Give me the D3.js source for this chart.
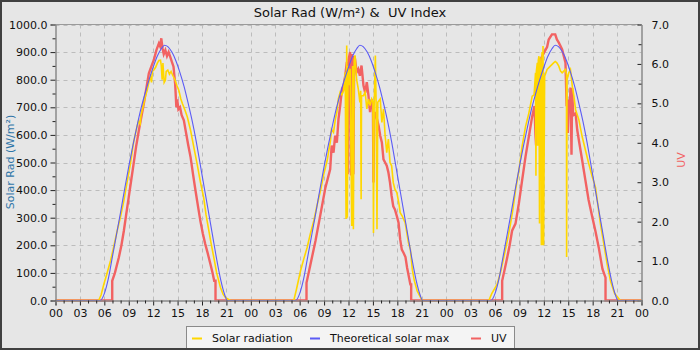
<!DOCTYPE html>
<html><head><meta charset="utf-8">
<script src="https://cdn.jsdelivr.net/npm/d3@7/dist/d3.min.js"></script>
<style>
body{margin:0;background:#e6e6e6}
svg{display:block}
text{font-family:"DejaVu Sans",sans-serif}
</style>
</head><body>
<svg id="chart" width="700" height="350"></svg>
<script>
// ---- DATA (hours since start of day 1, value) ----
const xTickHours = [0,3,6,9,12,15,18,21,24,27,30,33,36,39,42,45,48,51,54,57,60,63,66,69,72];
const xTickLabels = ["00","03","06","09","12","15","18","21","00","03","06","09","12","15","18","21","00","03","06","09","12","15","18","21","00"];
const radTicks = [0,100,200,300,400,500,600,700,800,900,1000];
const uvTicks = [0,1,2,3,4,5,6,7];

const theoreticalMax = [
 [0,0],[5.5,0],[6,25],[6.5,80],[7,160],[7.5,240],[8,320],[8.5,405],[9,485],[9.5,560],[10,630],[10.5,695],[11,750],[11.5,800],[12,845],[12.5,885],[13,912],[13.4,925],[13.8,920],[14.3,900],[14.8,868],[15.3,825],[15.8,775],[16.3,715],[16.8,650],[17.3,575],[17.8,490],[18.3,405],[18.8,320],[19.3,235],[19.8,150],[20.3,75],[20.8,20],[21.1,0],
 [29.5,0],[30,25],[30.5,80],[31,160],[31.5,240],[32,320],[32.5,405],[33,485],[33.5,560],[34,630],[34.5,695],[35,750],[35.5,800],[36,845],[36.5,885],[37,912],[37.4,925],[37.8,920],[38.3,900],[38.8,868],[39.3,825],[39.8,775],[40.3,715],[40.8,650],[41.3,575],[41.8,490],[42.3,405],[42.8,320],[43.3,235],[43.8,150],[44.3,75],[44.8,20],[45.1,0],
 [53.5,0],[54,25],[54.5,80],[55,160],[55.5,240],[56,320],[56.5,405],[57,485],[57.5,560],[58,630],[58.5,695],[59,750],[59.5,800],[60,845],[60.5,885],[61,912],[61.4,925],[61.8,920],[62.3,900],[62.8,868],[63.3,825],[63.8,775],[64.3,715],[64.8,650],[65.3,575],[65.8,490],[66.3,405],[66.8,320],[67.3,235],[67.8,150],[68.3,75],[68.8,20],[69.1,0],[72,0]
];

const solarRadiation = [
 [0,0],[5.3,0],[5.6,20],[5.94,59],[6.3,95],[6.76,144],[7.2,200],[7.58,253],[8.0,305],[8.4,362],[8.8,430],[9.2,495],[9.6,575],[10.0,628],[10.2,650],[10.4,640],[10.5,670],[10.85,713],[11.0,735],[11.26,762],[11.5,795],[11.67,810],[11.8,790],[11.9,830],[12.08,835],[12.3,845],[12.5,859],[12.7,870],[12.9,871],[13.0,850],[13.1,800],[13.2,860],[13.35,790],[13.5,798],[13.6,830],[13.8,835],[14.0,820],[14.2,830],[14.4,816],[14.7,798],[14.9,780],[15.15,762],[15.4,730],[15.6,713],[15.9,690],[16.2,665],[16.6,616],[17.0,555],[17.4,495],[17.8,430],[18.2,374],[18.5,310],[18.84,253],[19.1,210],[19.45,156],[19.8,100],[20.27,47],[20.6,22],[20.9,10],[21.5,0],
 [29.28,0],[29.6,40],[30.1,107],[30.5,150],[30.92,192],[31.3,240],[31.74,289],[32.1,340],[32.56,398],[32.97,459],[33.38,507],[33.79,580],[33.9,620],[34.16,609],[34.4,660],[34.57,682],[34.75,730],[34.98,755],[35.2,745],[35.4,760],[35.6,827],[35.7,295],[35.78,924],[35.85,300],[35.95,850],[36.05,780],[36.2,840],[36.4,270],[36.5,850],[36.6,258],[36.7,870],[36.8,888],[37.0,800],[37.2,767],[37.4,718],[37.5,760],[37.55,367],[37.6,742],[37.84,742],[38.05,755],[38.25,694],[38.45,730],[38.65,706],[38.85,730],[39.0,720],[39.07,245],[39.15,700],[39.3,888],[39.4,700],[39.5,258],[39.6,718],[39.9,730],[40.1,645],[40.3,694],[40.5,597],[40.7,536],[40.9,585],[41.1,500],[41.3,488],[41.5,427],[41.7,403],[41.94,391],[42.2,350],[42.35,318],[42.6,306],[42.96,282],[43.2,240],[43.37,209],[43.6,185],[43.85,110],[44.1,70],[44.44,35],[45.05,0],
 [53.24,0],[53.6,25],[54.27,59],[54.7,105],[55.08,156],[55.5,215],[55.9,277],[56.2,330],[56.52,400],[56.93,470],[57.34,560],[57.75,630],[58.16,679],[58.57,740],[58.8,745],[58.98,825],[59.03,452],[59.08,830],[59.2,861],[59.27,561],[59.32,870],[59.4,885],[59.47,279],[59.52,880],[59.65,820],[59.7,200],[59.78,900],[59.85,200],[59.9,922],[59.97,200],[60.1,813],[60.4,837],[60.8,849],[61.2,861],[61.4,866],[61.6,861],[61.84,849],[62.05,831],[62.25,825],[62.45,831],[62.66,837],[62.78,820],[62.8,158],[62.85,800],[63.07,825],[63.27,837],[63.5,776],[63.7,740],[63.9,691],[64.3,655],[64.7,595],[65.1,546],[65.5,498],[65.94,449],[66.35,410],[66.96,277],[67.4,200],[67.78,132],[68.2,70],[68.7,25],[69.4,0],[72,0]
];

const uvIndex = [
 [0,0],[6.97,0],[6.97,0.5],[7.3,0.7],[7.78,1.09],[8.1,1.4],[8.4,1.77],[8.7,2.2],[9.0,2.62],[9.3,3.05],[9.6,3.47],[9.9,3.9],[10.24,4.31],[10.5,4.6],[10.85,4.99],[11.1,5.3],[11.47,5.76],[11.8,5.95],[12.08,6.1],[12.4,6.35],[12.7,6.52],[12.85,6.45],[13.0,6.65],[13.15,6.4],[13.3,6.25],[13.5,6.35],[13.7,6.2],[13.9,6.3],[14.1,6.18],[14.3,6.05],[14.5,5.93],[14.7,5.5],[14.85,4.9],[14.95,5.1],[15.1,4.85],[15.3,4.9],[15.5,4.7],[15.77,4.57],[16.0,4.3],[16.3,3.95],[16.6,3.63],[16.9,3.2],[17.2,2.79],[17.5,2.4],[17.8,2.02],[18.1,1.7],[18.4,1.43],[18.7,1.2],[19.04,0.92],[19.3,0.7],[19.5,0.5],[19.66,0.5],[19.66,0],
 [30.84,0],[30.84,0.45],[31.33,0.92],[31.94,1.51],[32.56,2.19],[33.17,2.87],[33.75,3.33],[33.93,3.93],[34.16,3.75],[34.36,4.18],[34.57,4.0],[34.77,4.6],[34.98,4.94],[35.2,5.37],[35.4,5.45],[35.6,5.7],[35.8,6.05],[35.9,3.2],[36.0,6.1],[36.2,6.3],[36.3,3.17],[36.4,6.25],[36.6,3.2],[36.7,6.2],[36.8,6.13],[37.0,5.79],[37.2,5.87],[37.4,5.7],[37.6,5.96],[37.84,5.45],[38.05,5.27],[38.25,5.54],[38.45,5.2],[38.65,4.78],[38.85,5.1],[39.0,4.9],[39.07,2.99],[39.15,4.6],[39.3,4.78],[39.5,4.6],[39.7,4.43],[39.9,4.18],[40.1,4.01],[40.3,3.58],[40.5,3.5],[40.7,3.42],[40.9,3.25],[41.1,2.99],[41.3,2.65],[41.5,2.39],[41.7,2.31],[41.94,2.14],[42.15,1.97],[42.35,1.55],[42.55,1.29],[42.76,1.21],[43.0,1.1],[43.2,0.83],[43.6,0.41],[43.7,0.41],[43.7,0],
 [54.88,0],[54.88,0.5],[55.2,0.8],[55.5,1.09],[55.8,1.4],[56.1,1.77],[56.52,1.95],[56.93,2.46],[57.34,3.06],[57.75,3.65],[58.16,4.16],[58.57,4.67],[58.85,4.93],[58.98,4.16],[59.05,3.93],[59.1,5.52],[59.4,6.03],[59.5,4.07],[59.6,6.11],[60.0,6.28],[60.4,6.43],[60.6,6.62],[61.0,6.75],[61.4,6.75],[61.6,6.62],[61.84,6.54],[62.25,6.37],[62.45,6.2],[62.66,6.03],[62.8,4.93],[62.9,5.1],[62.95,4.25],[63.07,5.1],[63.2,4.9],[63.27,5.4],[63.4,3.7],[63.48,5.39],[63.6,4.7],[63.9,4.75],[64.1,4.33],[64.3,4.07],[64.7,3.57],[65.1,3.06],[65.5,2.55],[65.94,2.13],[66.35,1.75],[66.75,1.34],[67.2,0.8],[67.58,0.58],[67.58,0],[72,0]
];

const seriesNames = ["Solar radiation","Theoretical solar max","UV"];
const seriesColors = ["#ffd700","#5b5bf5","#f26262"];

// ---- DRAW ----
const svg = d3.select("#chart");
const W = 700, H = 350;
const L = 55.5, R = 641.5, T = 24.5, B = 300.5;

svg.append("rect").attr("x",0).attr("y",0).attr("width",W).attr("height",H).attr("fill","#e6e6e6");

const x = d3.scaleLinear().domain([0,72]).range([L,R]);
const yL = d3.scaleLinear().domain([0,1000]).range([B,T]);
const yR = d3.scaleLinear().domain([0,7]).range([B,T]);

// grid
const grid = svg.append("g").attr("stroke","#bcbcbc").attr("stroke-dasharray","4,4").attr("stroke-width",1);
grid.selectAll("line.h").data(radTicks.filter(v=>v>0)).join("line")
  .attr("x1",L).attr("x2",R).attr("y1",d=>Math.round(yL(d))+0.5).attr("y2",d=>Math.round(yL(d))+0.5);
grid.selectAll("line.v").data(xTickHours.filter(h=>h>0&&h<72)).join("line")
  .attr("y1",T).attr("y2",B).attr("x1",d=>Math.round(x(d))+0.5).attr("x2",d=>Math.round(x(d))+0.5);

// lines
const lineL = d3.line().x(d=>x(d[0])).y(d=>yL(d[1]));
const lineR = d3.line().x(d=>x(d[0])).y(d=>yR(d[1]));
const lineMax = d3.line().x(d=>x(d[0])).y(d=>yL(d[1])).curve(d3.curveMonotoneX);

svg.append("path").datum(uvIndex).attr("d",lineR).attr("fill","none")
  .attr("stroke",seriesColors[2]).attr("stroke-width",2.4).attr("stroke-linejoin","miter");
svg.append("path").datum(solarRadiation).attr("d",lineL).attr("fill","none")
  .attr("stroke",seriesColors[0]).attr("stroke-width",1.6);
svg.append("path").datum(theoreticalMax).attr("d",lineMax).attr("fill","none")
  .attr("stroke",seriesColors[1]).attr("stroke-width",1.1);

// frame top
svg.append("line").attr("x1",L).attr("x2",R).attr("y1",T).attr("y2",T).attr("stroke","#9a9a9a");

// axes
const fmt1 = d3.format(".1f");
const gL = svg.append("g").attr("transform",`translate(${L},0)`)
  .call(d3.axisLeft(yL).tickValues(radTicks).tickFormat(fmt1).tickSize(5).tickPadding(3));
const gLm = svg.append("g").attr("transform",`translate(${L},0)`)
  .call(d3.axisLeft(yL).tickValues(d3.range(50,1000,100)).tickFormat("").tickSize(3));
const gR = svg.append("g").attr("transform",`translate(${R},0)`)
  .call(d3.axisRight(yR).tickValues(uvTicks).tickFormat(fmt1).tickSize(-4).tickPadding(10));
const gRm = svg.append("g").attr("transform",`translate(${R},0)`)
  .call(d3.axisRight(yR).tickValues(d3.range(0.5,7,1)).tickFormat("").tickSize(-3));
const gB = svg.append("g").attr("transform",`translate(0,${B})`)
  .call(d3.axisBottom(x).tickValues(xTickHours).tickFormat((d,i)=>xTickLabels[i]).tickSize(5).tickPadding(4));
const gBm = svg.append("g").attr("transform",`translate(0,${B})`)
  .call(d3.axisBottom(x).tickValues(d3.range(0,73,1).filter(h=>h%3)).tickFormat("").tickSize(3));

[gL,gLm,gR,gRm,gB,gBm].forEach(g=>{
  g.select(".domain").attr("stroke","#8a8a8a");
  g.selectAll(".tick line").attr("stroke","#222");
  g.selectAll("text").attr("fill","#111").style("font-size","11px").style("font-family","'DejaVu Sans',sans-serif");
});

// title & axis titles
svg.append("text").attr("x",350).attr("y",17).attr("text-anchor","middle")
  .style("font-size","13px").style("white-space","pre").attr("fill","#111")
  .text("Solar Rad (W/m²) &  UV Index");
svg.append("text").attr("transform","translate(14,162) rotate(-90)").attr("text-anchor","middle")
  .style("font-size","11px").attr("fill","#2f75a8").text("Solar Rad (W/m²)");
svg.append("text").attr("transform","translate(685,160) rotate(-90)").attr("text-anchor","middle")
  .style("font-size","11px").attr("fill","#f26262").text("UV");

// legend
const lg = svg.append("g");
lg.append("rect").attr("x",186.5).attr("y",326.5).attr("width",328).attr("height",26)
  .attr("fill","#f4f4f4").attr("stroke","#8a8a8a");
const legX = [192, 310, 471];
seriesNames.forEach((n,i)=>{
  lg.append("line").attr("x1",legX[i]).attr("x2",legX[i]+10).attr("y1",338.5).attr("y2",338.5)
    .attr("stroke",seriesColors[i]).attr("stroke-width",2);
  lg.append("text").attr("x",legX[i]+20).attr("y",342).style("font-size","11px").attr("fill","#111").text(n);
});

// outer frame
svg.append("rect").attr("x",1).attr("y",1).attr("width",W-2).attr("height",H-2)
  .attr("fill","none").attr("stroke","#404040").attr("stroke-width",2);
</script>
</body></html>
